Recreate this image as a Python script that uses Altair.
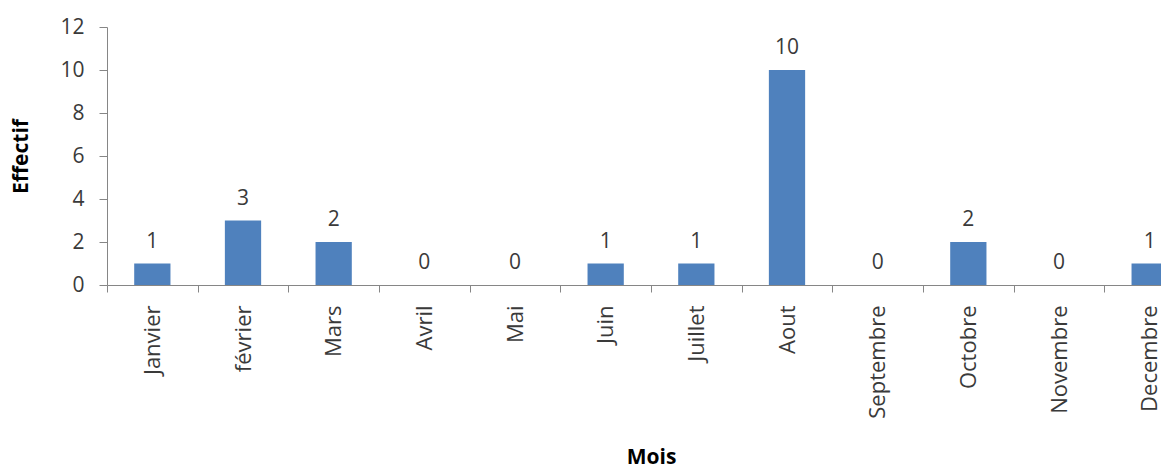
import altair as alt
import pandas as pd

# Monthly counts
mois = ["Janvier", "février", "Mars", "Avril", "Mai", "Juin", "Juillet",
        "Aout", "Septembre", "Octobre", "Novembre", "Decembre"]
effectif = [1, 3, 2, 0, 0, 1, 1, 10, 0, 2, 0, 1]

df = pd.DataFrame({"Mois": mois, "Effectif": effectif})

FONT = "Open Sans"
TEXT = "#3a3a3a"
AXIS = "#868686"

x = alt.X(
    "Mois:N",
    sort=mois,
    scale=alt.Scale(range=[0, 1088], paddingInner=0, paddingOuter=0),
    axis=alt.Axis(
        title="Mois",
        titleFont=FONT,
        titleFontSize=21,
        titleFontWeight="bold",
        titleColor="#000000",
        titleX=544,
        titleY=161,
        labelAngle=270,
        labelAlign="right",
        labelBaseline="middle",
        labelFont=FONT,
        labelFontSize=22,
        labelColor=TEXT,
        labelPadding=13,
        tickBand="extent",
        tickSize=7,
        tickColor=AXIS,
        domainColor=AXIS,
        grid=False,
    ),
)

y = alt.Y(
    "Effectif:Q",
    scale=alt.Scale(domain=[0, 12], nice=False),
    axis=alt.Axis(
        title="Effectif",
        titleFont=FONT,
        titleFontSize=21,
        titleFontWeight="bold",
        titleColor="#000000",
        titleX=-76,
        values=[0, 2, 4, 6, 8, 10, 12],
        labelFont=FONT,
        labelFontSize=21,
        labelColor=TEXT,
        labelPadding=15,
        tickSize=8,
        tickColor=AXIS,
        domainColor=AXIS,
        grid=False,
    ),
)

bars = alt.Chart(df).mark_bar(
    color="#4F81BD", width=alt.RelativeBandSize(0.4)
).encode(x=x, y=y)

labels = alt.Chart(df).mark_text(
    font=FONT, fontSize=21, color=TEXT, baseline="alphabetic", dy=-16
).encode(x=alt.X("Mois:N", sort=mois), y="Effectif:Q", text="Effectif:Q")

chart = (
    alt.layer(bars, labels)
    .properties(
        width=1054,
        height=258,
        autosize=alt.AutoSizeParams(type="none"),
        padding={"left": 107, "top": 27, "right": 0, "bottom": 180},
        background="white",
    )
    .configure_view(stroke=None)
)

chart.save("out.html", embed_options={"renderer": "svg", "actions": False})
